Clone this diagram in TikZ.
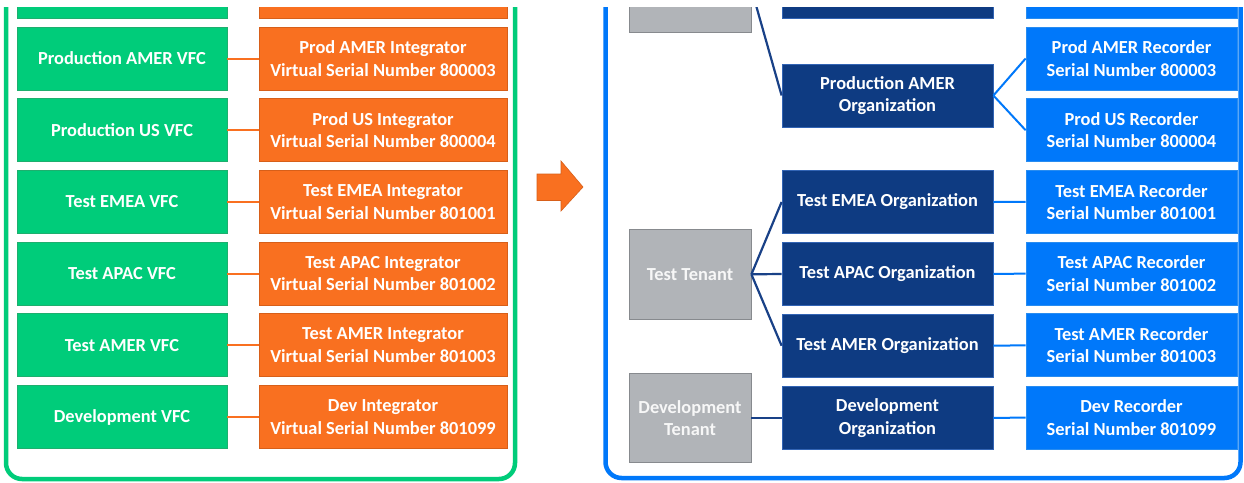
\documentclass[tikz,border=0pt]{standalone}
\usepackage{fontspec}
\setmainfont{Carlito}
\definecolor{vfcgreen}{RGB}{0,204,122}
\definecolor{vfcgreenb}{RGB}{30,175,110}
\definecolor{integorange}{RGB}{249,112,32}
\definecolor{integorangeb}{RGB}{215,95,25}
\definecolor{tenantgray}{RGB}{177,180,184}
\definecolor{tenantgrayb}{RGB}{135,138,142}
\definecolor{orgblue}{RGB}{14,59,130}
\definecolor{orgblueb}{RGB}{50,100,180}
\definecolor{recblue}{RGB}{0,120,250}
\definecolor{recblueb}{RGB}{40,140,240}
\definecolor{darkline}{RGB}{25,65,135}
\begin{document}
\begin{tikzpicture}[x=1pt,y=-1pt,
  box/.style={rectangle, inner sep=0pt, align=center, text=white,
    font=\bfseries\fontsize{18.4}{22.5}\selectfont, line width=0.8pt},
  vfc/.style={box, fill=vfcgreen, draw=vfcgreenb, minimum width=210pt, minimum height=63pt},
  integ/.style={box, fill=integorange, draw=integorangeb, minimum width=248pt, minimum height=63pt},
  tenant/.style={box, fill=tenantgray, draw=tenantgrayb, minimum width=122pt, text=white!94!gray},
  org/.style={box, fill=orgblue, draw=orgblueb, minimum width=211pt, minimum height=63pt},
  rec/.style={box, fill=recblue, draw=recblueb, minimum width=211pt, minimum height=63pt},
  orline/.style={draw=integorange, line width=2pt},
  dkline/.style={draw=darkline, line width=2.2pt},
  blline/.style={draw=recblue, line width=2pt},
  container/.style={line width=4.5pt, rounded corners=16pt}
]
\useasboundingbox (0,0) rectangle (1244,482);
\fill[white] (0,0) rectangle (1244,482);
\clip (0,7) rectangle (1244,482);

% containers
\draw[container, draw=vfcgreen] (6,-60) rectangle (515,479);
\draw[container, draw=recblue] (605.5,-60) rectangle (1240.5,478);

% left column
\node[vfc] (g0) at (122,-13.2) {};
\node[integ] (o0) at (383,-13.2) {};
\node[vfc] (g1) at (122,58.5) {Production AMER VFC};
\node[integ] (o1) at (383,58.5) {Prod AMER Integrator\\Virtual Serial Number 800003};
\node[vfc] (g2) at (122,130.2) {Production US VFC};
\node[integ] (o2) at (383,130.2) {Prod US Integrator\\Virtual Serial Number 800004};
\node[vfc] (g3) at (122,201.9) {Test EMEA VFC};
\node[integ] (o3) at (383,201.9) {Test EMEA Integrator\\Virtual Serial Number 801001};
\node[vfc] (g4) at (122,273.6) {Test APAC VFC};
\node[integ] (o4) at (383,273.6) {Test APAC Integrator\\Virtual Serial Number 801002};
\node[vfc] (g5) at (122,345.3) {Test AMER VFC};
\node[integ] (o5) at (383,345.3) {Test AMER Integrator\\Virtual Serial Number 801003};
\node[vfc] (g6) at (122,417) {Development VFC};
\node[integ] (o6) at (383,417) {Dev Integrator\\Virtual Serial Number 801099};
\foreach \i in {1,...,6} {\draw[orline] (g\i.east) -- (o\i.west);}

% arrow
\filldraw[fill=integorange, draw=integorangeb, line width=0.6pt]
  (537,174) -- (561,174) -- (561,161) -- (583,187) -- (561,211) -- (561,200.5) -- (537,200.5) -- cycle;

% right column
\node[tenant, minimum height=86pt] (pt) at (690,-11) {};
\node[tenant, minimum height=90pt] (tt) at (690,274.3) {Test Tenant};
\node[tenant, minimum height=89pt] (dt) at (690,418) {Development\\Tenant};

\node[org] (po0) at (887.5,-13) {};
\node[org] (pao) at (887.5,95.5) {Production AMER\\Organization};
\node[org] (teo) at (887.5,202) {Test EMEA Organization};
\node[org] (tapo) at (887.5,274) {Test APAC Organization};
\node[org] (tamo) at (887.5,345.7) {Test AMER Organization};
\node[org] (do) at (887.5,418) {Development\\Organization};

\node[rec] (r0) at (1131.5,-13.2) {};
\node[rec] (par) at (1131.5,58.5) {Prod AMER Recorder\\Serial Number 800003};
\node[rec] (pur) at (1131.5,130.2) {Prod US Recorder\\Serial Number 800004};
\node[rec] (ter) at (1131.5,201.9) {Test EMEA Recorder\\Serial Number 801001};
\node[rec] (tapr) at (1131.5,273.6) {Test APAC Recorder\\Serial Number 801002};
\node[rec] (tamr) at (1131.5,345.3) {Test AMER Recorder\\Serial Number 801003};
\node[rec] (dr) at (1131.5,417.5) {Dev Recorder\\Serial Number 801099};

\draw[dkline] (pt.east) -- (pao.west);
\draw[dkline] (tt.east) -- (teo.west);
\draw[dkline] (tt.east) -- (tapo.west);
\draw[dkline] (tt.east) -- (tamo.west);
\draw[dkline] (dt.east) -- (do.west);

\draw[blline] (pao.east) -- (par.west);
\draw[blline] (pao.east) -- (pur.west);
\draw[blline] (teo.east) -- (ter.west);
\draw[blline] (tapo.east) -- (tapr.west);
\draw[blline] (tamo.east) -- (tamr.west);
\draw[blline] (do.east) -- (dr.west);
\end{tikzpicture}
\end{document}
